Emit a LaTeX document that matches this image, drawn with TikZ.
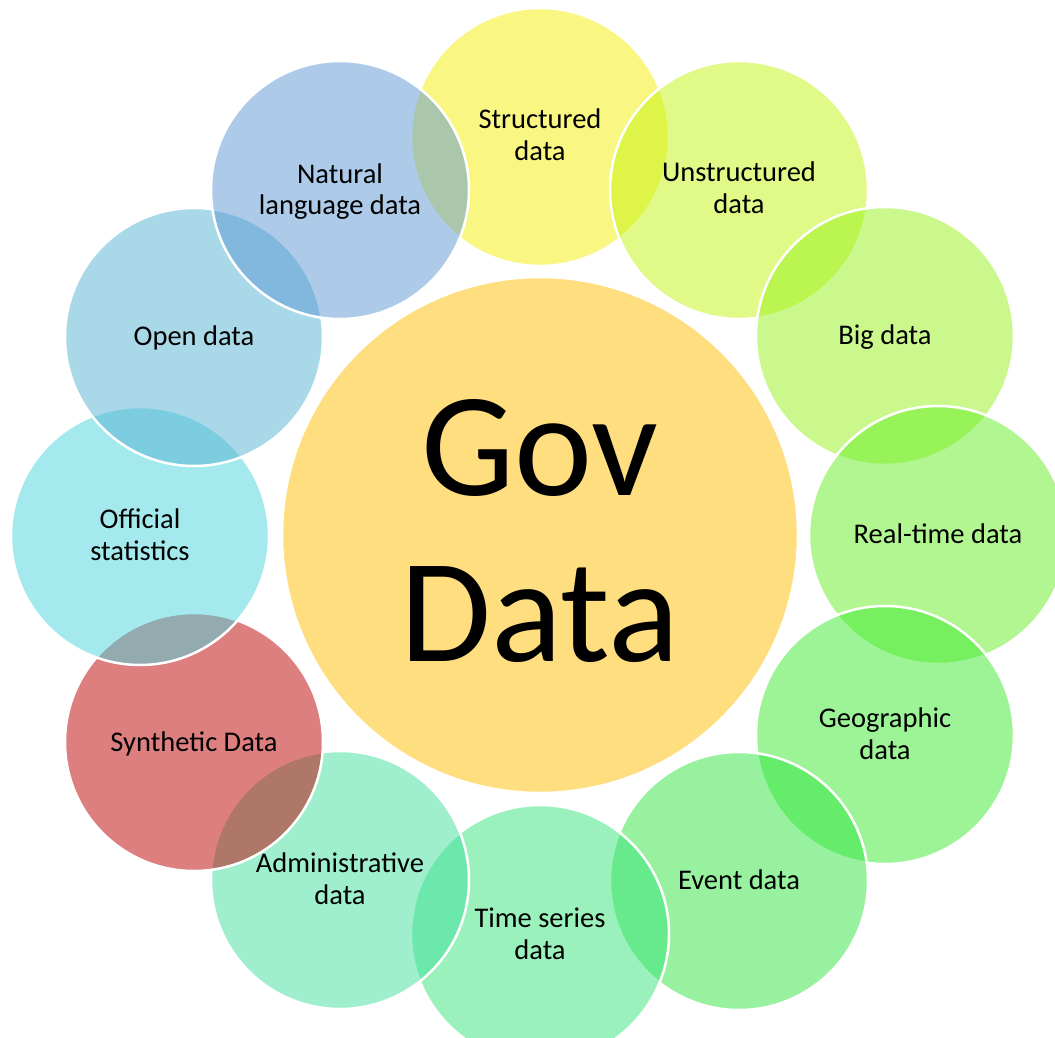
\documentclass[tikz,border=0pt]{standalone}
\usepackage{fontspec}
\setmainfont{Carlito}
\definecolor{cCenter}{RGB}{255,222,128}
\definecolor{cStruct}{RGB}{245,241,5}
\definecolor{cUnstr}{RGB}{197,245,15}
\definecolor{cBig}{RGB}{151,243,27}
\definecolor{cReal}{RGB}{103,239,37}
\definecolor{cGeo}{RGB}{61,235,49}
\definecolor{cEvent}{RGB}{49,229,65}
\definecolor{cTime}{RGB}{57,229,121}
\definecolor{cAdmin}{RGB}{65,225,161}
\definecolor{cSynth}{RGB}{189,0,0}
\definecolor{cOffic}{RGB}{75,213,221}
\definecolor{cOpen}{RGB}{85,179,211}
\definecolor{cNatur}{RGB}{93,153,213}
\newcommand{\twoline}[2]{\parbox[t]{260pt}{\centering #1\\#2}}
\begin{document}
\begin{tikzpicture}[x=1pt,y=-1pt,
  bubble/.style={circle, minimum size=258pt, inner sep=0pt, fill opacity=0.5, draw=white, draw opacity=1, line width=2.5pt},
  lbl/.style={anchor=base, inner sep=0pt, font=\fontsize{28.5}{32}\selectfont, text=black},
  biglbl/.style={anchor=base, inner sep=0pt, font=\fontsize{148}{166}\selectfont, text=black}]
\useasboundingbox (0,0) rectangle (1055,1038);
\clip (0,0) rectangle (1055,1038);
\fill[white] (0,0) rectangle (1055,1038);
% centre
\node[circle, minimum size=516pt, inner sep=0pt, fill=cCenter, draw=white, line width=2.5pt] (gov) at (540,535) {};
% ring, clockwise from top
\node[bubble, fill=cStruct] (s1) at (540,137) {};
\node[bubble, fill=cUnstr]  (s2) at (739,190) {};
\node[bubble, fill=cBig]    (s3) at (885,336) {};
\node[bubble, fill=cReal]   (s4) at (938,535) {};
\node[bubble, fill=cGeo]    (s5) at (885,735) {};
\node[bubble, fill=cEvent]  (s6) at (739,881) {};
\node[bubble, fill=cTime]   (s7) at (540,934) {};
\node[bubble, fill=cAdmin]  (s8) at (340,880) {};
\node[bubble, fill=cSynth]  (s9) at (194,742) {};
\node[bubble, fill=cOffic]  (s10) at (140,536) {};
\node[bubble, fill=cOpen]   (s11) at (194,337) {};
\node[bubble, fill=cNatur]  (s12) at (340,190) {};
% labels
\node[biglbl] (govt) at ([yshift=40pt]gov.center) {\parbox[t]{480pt}{\centering Gov\\Data}};
\node[lbl] (t1) at ([yshift=8pt]s1.center) {\twoline{Structured}{data}};
\node[lbl] (t2) at ([yshift=8pt]s2.center) {\twoline{Unstructured}{data}};
\node[lbl] (t3) at ([yshift=-8pt]s3.center) {Big data};
\node[lbl] (t4) at ([yshift=-8pt]s4.center) {Real-time data};
\node[lbl] (t5) at ([yshift=8pt]s5.center) {\twoline{Geographic}{data}};
\node[lbl] (t6) at ([yshift=-8pt]s6.center) {Event data};
\node[lbl] (t7) at ([yshift=7pt]s7.center) {\twoline{Time series}{data}};
\node[lbl] (t8) at ([yshift=8pt]s8.center) {\twoline{Administrative}{data}};
\node[lbl] (t9) at ([yshift=-9pt]s9.center) {Synthetic Data};
\node[lbl] (t10) at ([yshift=8pt]s10.center) {\twoline{Official}{statistics}};
\node[lbl] (t11) at ([yshift=-8pt]s11.center) {Open data};
\node[lbl] (t12) at ([yshift=7pt]s12.center) {\twoline{Natural}{language data}};
\end{tikzpicture}
\end{document}
